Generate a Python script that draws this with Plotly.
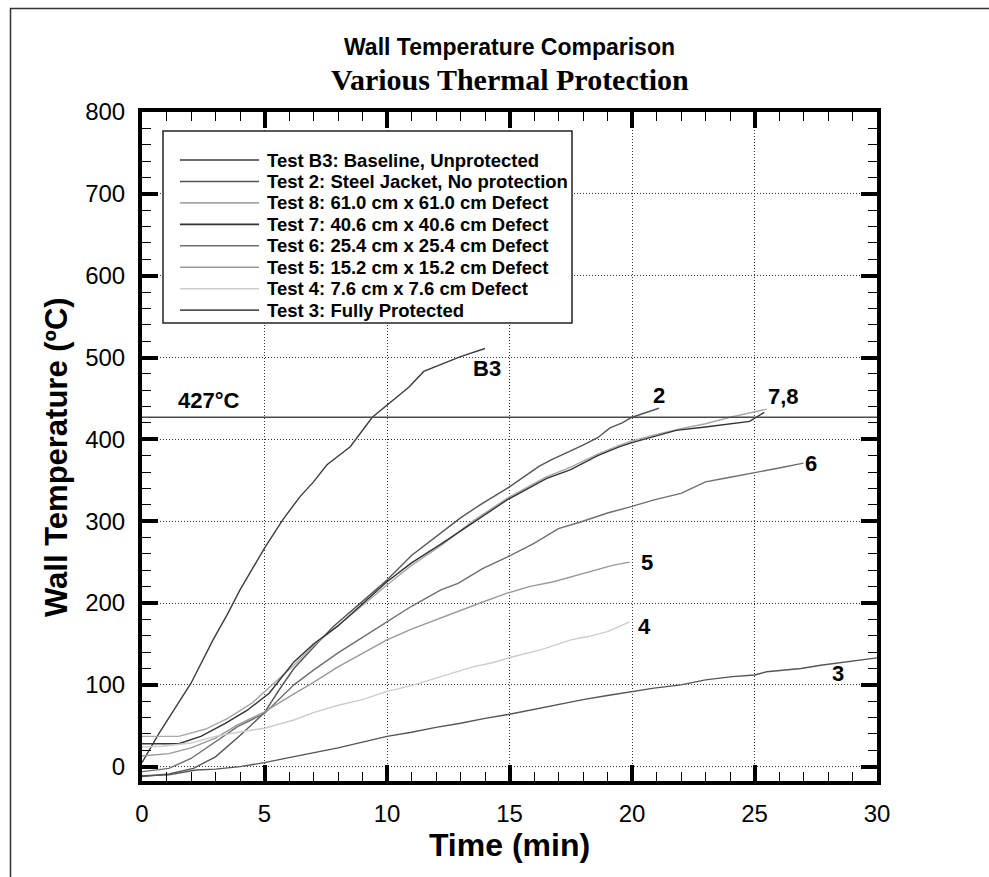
import plotly.graph_objects as go

# ---------------- data ----------------
b3_t = [0, 0.7, 2.0, 2.9, 3.5, 4.0, 5.0, 5.75, 6.45, 7.0, 7.55, 8.5, 9.4, 10.4, 10.9, 11.5, 12.0, 12.6, 13.0, 14.0]
b3_y = [5, 41, 102, 155, 187, 216, 267, 302, 330, 348, 369, 391, 427, 452, 464, 483, 489, 497, 501, 511]

t2_t = [0, 1.1, 2.1, 2.6, 3.0, 4.0, 5.0, 5.6, 6.2, 7.0, 7.8, 9.0, 10.0, 11.0, 12.2, 13.0, 13.8, 15.0, 16.2, 16.7, 18.0, 18.6, 19.1, 19.6, 20.0, 21.1]
t2_y = [-12, -9, -2, 6, 12, 38, 66, 94, 120, 146, 171, 202, 228, 258, 286, 304, 320, 342, 367, 375, 393, 402, 414, 420, 427, 438]

t8_t = [0, 1.5, 2.6, 3.5, 4.5, 5.4, 6.2, 7.0, 8.0, 9.0, 10.0, 11.0, 12.2, 13.5, 14.9, 16.5, 17.5, 18.6, 19.5, 20.0, 21.0, 22.0, 23.0, 24.0, 25.5]
t8_y = [37, 37, 46, 59, 78, 102, 124, 148, 172, 197, 222, 246, 270, 300, 328, 354, 366, 382, 393, 398, 406, 413, 419, 427, 437]

t7_t = [0, 1.5, 2.4, 3.4, 4.3, 5.2, 6.2, 7.0, 8.0, 9.0, 10.0, 11.0, 12.2, 13.5, 14.9, 16.5, 17.5, 18.6, 19.5, 20.0, 21.0, 21.8, 23.0, 24.0, 24.8, 25.4]
t7_y = [28, 28, 37, 53, 69, 90, 128, 150, 172, 199, 226, 249, 272, 298, 326, 352, 363, 380, 391, 396, 404, 411, 415, 419, 422, 433]

t6_t = [0, 1.1, 2.0, 3.0, 3.9, 5.0, 6.2, 7.0, 8.0, 9.0, 10.0, 11.0, 12.2, 12.9, 13.9, 14.9, 16.0, 17.0, 17.9, 19.0, 20.0, 20.9, 22.0, 23.0, 23.9, 25.0, 26.0, 27.0]
t6_y = [-6, -2, 10, 31, 49, 65, 100, 118, 139, 158, 177, 196, 216, 224, 242, 256, 273, 291, 299, 310, 318, 326, 334, 348, 353, 359, 365, 371]

t5_t = [0, 1.1, 2.0, 3.0, 3.9, 5.0, 6.2, 7.0, 8.0, 9.0, 10.0, 11.0, 12.2, 13.8, 14.9, 15.8, 16.8, 18.3, 19.2, 19.9]
t5_y = [13, 16, 23, 35, 51, 67, 89, 103, 122, 139, 155, 168, 182, 200, 212, 220, 226, 238, 246, 250]

t4_t = [0, 0.8, 2.0, 3.0, 4.1, 5.0, 6.2, 7.0, 8.0, 9.0, 10.0, 11.0, 12.2, 13.5, 14.3, 15.1, 16.3, 17.5, 18.2, 19.0, 19.9]
t4_y = [24, 25, 29, 37, 43, 47, 57, 66, 75, 82, 92, 99, 110, 122, 127, 134, 143, 155, 159, 165, 177]

t3_t = [0, 1.1, 2.2, 3.0, 4.0, 5.0, 6.0, 7.0, 8.0, 9.0, 10.0, 11.0, 12.0, 13.0, 14.0, 15.0, 16.0, 17.0, 18.0, 19.0, 20.0, 20.9, 22.0, 23.0, 24.1, 25.0, 25.5, 26.9, 27.7, 30.0]
t3_y = [-11, -10, -4, -3, 0, 5, 11, 17, 23, 30, 37, 42, 48, 53, 59, 64, 70, 76, 82, 87, 92, 96, 100, 106, 110, 112, 116, 120, 124, 133]

series_names = [
    "Test B3: Baseline, Unprotected",
    "Test 2: Steel Jacket, No protection",
    "Test 8: 61.0 cm x 61.0 cm Defect",
    "Test 7: 40.6 cm x 40.6 cm Defect",
    "Test 6: 25.4 cm x 25.4 cm Defect",
    "Test 5: 15.2 cm x 15.2 cm Defect",
    "Test 4: 7.6 cm x 7.6 cm Defect",
    "Test 3: Fully Protected",
]
series_t = [b3_t, t2_t, t8_t, t7_t, t6_t, t5_t, t4_t, t3_t]
series_y = [b3_y, t2_y, t8_y, t7_y, t6_y, t5_y, t4_y, t3_y]
series_colors = ["#3c3c3c", "#555555", "#a8a8a8", "#333333", "#6e6e6e", "#999999", "#cccccc", "#555555"]

curve_labels = ["B3", "2", "7,8", "6", "5", "4", "3"]
curve_label_x = [14.1, 21.1, 26.2, 27.3, 20.6, 20.5, 28.4]
curve_label_y = [487, 454, 452, 371, 250, 171, 114]

threshold = 427
threshold_label = "427°C"

x_ticks = [0, 5, 10, 15, 20, 25, 30]
y_ticks = [0, 100, 200, 300, 400, 500, 600, 700, 800]

# ---------------- layout geometry ----------------
W, H = 989, 877
L, T = 142, 112
PW, PH = 735, 669
R = W - L - PW
B = H - T - PH

def px(x):
    return (x - L) / PW

def py(y):
    return (T + PH - y) / PH

SANS = "Liberation Sans, Arial, sans-serif"
SERIF = "Liberation Serif, Times New Roman, serif"

fig = go.Figure()
for name, t, y, c in zip(series_names, series_t, series_y, series_colors):
    fig.add_trace(go.Scatter(x=t, y=y, mode="lines", name=name,
                             line=dict(color=c, width=1.4), showlegend=False))

shapes = []
annotations = []

# threshold line
shapes.append(dict(type="line", xref="paper", yref="y", x0=0, x1=1, y0=threshold, y1=threshold,
                   line=dict(color="#4a4a4a", width=1.5)))
annotations.append(dict(x=2.75, y=448, xref="x", yref="y", text=threshold_label, showarrow=False,
                        font=dict(family=SANS, size=22, color="black", weight="bold")))

for lab, lx, ly in zip(curve_labels, curve_label_x, curve_label_y):
    annotations.append(dict(x=lx, y=ly, xref="x", yref="y", text=lab, showarrow=False,
                            font=dict(family=SANS, size=22, color="black", weight="bold")))

# legend box (drawn manually)
shapes.append(dict(type="rect", xref="paper", yref="paper", x0=px(163), x1=px(572), y0=py(323), y1=py(131),
                   line=dict(color="#222222", width=1.5), fillcolor="white", layer="above"))
row0, dy = 160, 21.45
for i, (name, c) in enumerate(zip(series_names, series_colors)):
    yy = row0 + i * dy
    shapes.append(dict(type="line", xref="paper", yref="paper", x0=px(180), x1=px(259), y0=py(yy), y1=py(yy),
                       line=dict(color=c, width=1.6), layer="above"))
    annotations.append(dict(x=px(265), y=py(yy), xref="paper", yref="paper", text=name, showarrow=False,
                            xanchor="left", yanchor="middle",
                            font=dict(family=SANS, size=18.5, color="black", weight="bold")))

# outer page border (top & left visible)
shapes.append(dict(type="rect", xref="paper", yref="paper", x0=px(10.5), x1=px(1100), y0=py(1000), y1=py(8.5),
                   line=dict(color="#333333", width=1.5), layer="below"))

# second title line
annotations.append(dict(x=0.5, y=py(80), xref="paper", yref="paper", text="Various Thermal Protection",
                        showarrow=False, xanchor="center", yanchor="middle",
                        font=dict(family=SERIF, size=30, color="black", weight="bold")))

# y axis title (placed as in the reference, slightly below the plot centre)
annotations.append(dict(x=px(57), y=py(457), xref="paper", yref="paper", text="Wall Temperature (ºC)",
                        showarrow=False, textangle=-90, xanchor="center", yanchor="middle",
                        font=dict(family=SANS, size=31, color="black", weight="bold")))

axis_common = dict(
    showline=True, linewidth=4, linecolor="black", mirror="allticks",
    ticks="inside", ticklen=16, tickwidth=4, tickcolor="black",
    showgrid=True, gridcolor="#333333", gridwidth=1, griddash="1px,2px",
    zeroline=False,
    tickfont=dict(family=SANS, size=24, color="black"),
    ticklabelstandoff=8,
)

fig.update_layout(
    width=W, height=H,
    margin=dict(l=L, r=R, t=T, b=B),
    paper_bgcolor="white", plot_bgcolor="white",
    title=dict(text="Wall Temperature Comparison", x=0.5, xref="paper", y=1 - 47 / H, yref="container",
               xanchor="center", yanchor="middle",
               font=dict(family=SANS, size=23, color="black", weight="bold")),
    xaxis=dict(range=[0, 30], tickvals=x_ticks,
               minor=dict(dtick=1, ticks="inside", ticklen=9, tickwidth=1, tickcolor="black", showgrid=False),
               title=dict(text="Time (min)", standoff=1,
                          font=dict(family=SANS, size=32, color="black", weight="bold")),
               **axis_common),
    yaxis=dict(range=[-17.5, 800], tickvals=y_ticks,
               minor=dict(dtick=20, tick0=0, ticks="inside", ticklen=9, tickwidth=1, tickcolor="black", showgrid=False),
               **axis_common),
    shapes=shapes,
    annotations=annotations,
)

fig.write_html("out.html")
